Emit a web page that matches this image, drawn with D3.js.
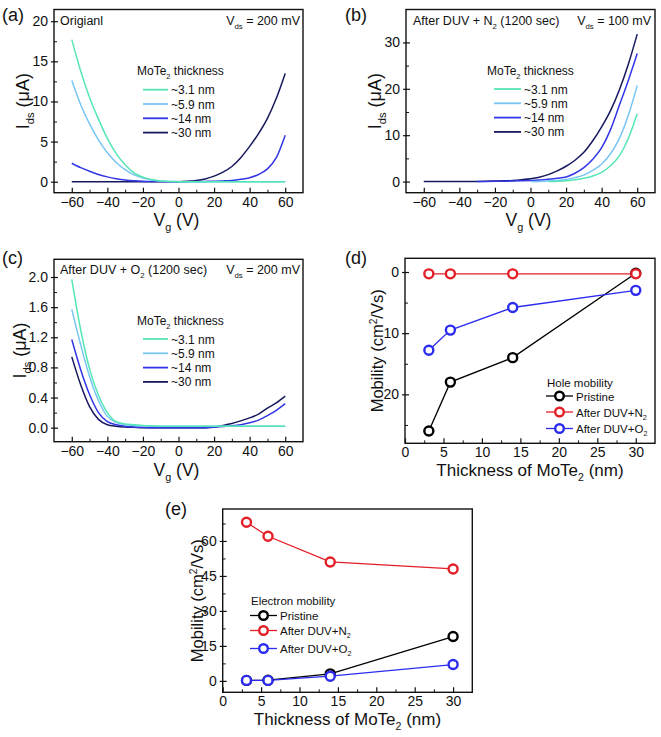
<!DOCTYPE html>
<html><head><meta charset="utf-8">
<script src="https://cdn.jsdelivr.net/npm/d3@7"></script>
<style>
body{margin:0;background:#fff;}
svg{display:block;font-family:"Liberation Sans",Arial,sans-serif;}
</style></head>
<body><svg id="c" width="661" height="737"></svg>
<script>
// ---------- data ----------
const vg = [-60,-55,-50,-45,-40,-35,-30,-25,-20,-15,-10,-5,0,5,10,15,20,25,30,35,40,45,50,55,60];
const thicknessLabels = ["~3.1 nm","~5.9 nm","~14 nm","~30 nm"];
// (a) Original, Ids (uA)
const a31 = [17.7,13.8,10.5,7.8,5.4,3.5,2.1,1.1,0.55,0.25,0.1,0.03,0.01,0,0,0,0,0,0,0,0,0,0,0,0];
const a59 = [12.6,9.6,7.2,5.2,3.6,2.4,1.5,0.85,0.45,0.2,0.08,0.02,0,0,0,0,0,0,0,0,0,0,0,0,0];
const a14 = [2.3,1.75,1.3,0.9,0.6,0.38,0.22,0.12,0.06,0.03,0.02,0.01,0,0.01,0.02,0.04,0.06,0.1,0.16,0.3,0.5,0.9,1.6,3.0,5.8];
const a30 = [0,0,0,0,0,0,0,0,0,0,0,0,0,0.05,0.15,0.35,0.7,1.2,1.9,3.0,4.4,6.0,7.9,10.4,13.5];
// (b) After DUV + N2
const b31 = [null,null,null,null,null,null,null,null,null,null,null,null,null,null,0,0.05,0.2,0.4,0.7,1.2,2.0,3.4,5.6,9.3,14.6];
const b59 = [null,null,null,null,null,null,null,null,null,null,null,null,0,0.03,0.1,0.22,0.45,0.85,1.4,2.4,3.8,6.0,9.3,14.3,20.7];
const b14 = [null,null,null,null,null,null,0,0.02,0.05,0.08,0.12,0.18,0.25,0.35,0.5,0.7,1.0,1.8,3.0,4.8,7.3,11.2,16.5,21.8,27.6];
const b30 = [0,0,0,0,0,0.02,0.04,0.06,0.1,0.15,0.25,0.4,0.6,0.95,1.5,2.3,3.3,4.6,6.3,8.8,11.8,15.3,19.8,25.3,31.8];
// (c) After DUV + O2
const c31 = [1.97,1.3,0.78,0.43,0.2,0.08,0.05,0.04,0.03,0.025,0.02,0.02,0.02,0.02,0.02,0.02,0.02,0.02,0.02,0.02,0.02,0.02,0.02,0.02,0.02];
const c59 = [1.57,1.1,0.68,0.36,0.15,0.07,0.04,0.03,0.025,0.02,0.02,0.02,0.02,0.02,0.02,0.02,0.02,0.02,0.02,0.02,0.02,0.02,0.02,0.02,0.02];
const c14 = [1.17,0.77,0.44,0.2,0.08,0.04,0.02,0.01,0.005,0,0,0,0,0,0,0,0.005,0.015,0.025,0.04,0.065,0.1,0.16,0.23,0.32];
const c30 = [0.94,0.57,0.28,0.11,0.04,0.02,0.01,0.005,0,0,0,0,0,0,0,0,0.01,0.03,0.055,0.09,0.13,0.18,0.26,0.33,0.42];
// (d)/(e) mobility
const thickness = [3.1,5.9,14,30];
const holePristine = [26,18,14,0.2];
const holeN2 = [0.3,0.3,0.3,0.3];
const holeO2 = [12.8,9.5,5.8,3];
const elecPristine = [0.2,0.3,3,19];
const elecN2 = [68,62,51,48];
const elecO2 = [0.2,0.2,2,7];
const mobilityNames = ["Pristine","After DUV+N","After DUV+O"];
// ticks
const vgTicks = [-60,-40,-20,0,20,40,60];
const aTicks = [0,5,10,15,20];
const bTicks = [0,10,20,30];
const cTicks = [0,0.4,0.8,1.2,1.6,2.0];
const dTicks = [0,10,20];
const eTicks = [0,15,30,45,60];
const thTicks = [0,5,10,15,20,25,30];

// ---------- styles ----------
const curveColors = ["#55e6b6","#78c6f4","#3236e6","#17195e"];
const markColors = ["#000000","#e41e26","#2b2cef"];
const svg = d3.select("#c");

function rich(g, x, y, parts, size, anchor, rotate){
  const t = g.append("text").attr("x",x).attr("y",y)
    .style("font-size",size+"px").attr("text-anchor",anchor||"start").attr("fill","#111");
  if(rotate) t.attr("transform",`rotate(-90,${x},${y})`);
  let shift=0;
  parts.forEach(p=>{
    const s = typeof p==="string"?p:p[0];
    const kind = typeof p==="string"?null:p[1];
    const target = kind==="sub"? size*0.3 : kind==="sup"? -size*0.38 : 0;
    const ts = t.append("tspan").attr("dy",target-shift).text(s);
    if(kind) ts.style("font-size",(size*0.62)+"px");
    shift=target;
  });
  return t;
}

function panel(o){
  const g = svg.append("g");
  const x = d3.scaleLinear().domain(o.xd).range([o.l,o.r]);
  const y = d3.scaleLinear().domain(o.yd).range(o.rev?[o.t,o.b]:[o.b,o.t]);
  const xm = [], ym = [];
  for(let i=0;i<o.xt.length-1;i++) xm.push((o.xt[i]+o.xt[i+1])/2);
  for(let i=0;i<o.yt.length-1;i++) ym.push((o.yt[i]+o.yt[i+1])/2);
  if(o.yExtraMinor) ym.push(...o.yExtraMinor);
  const ax = g.append("g").attr("transform",`translate(0,${o.b})`)
    .call(d3.axisBottom(x).tickValues(o.xt).tickSize(-5).tickPadding(4).tickFormat(o.xf||d3.format("d")));
  ax.select(".domain").remove();
  ax.selectAll("text").style("font-size","14px").attr("fill","#111").attr("dy","0.71em");
  ax.selectAll("line").attr("stroke","#111").attr("stroke-width",1.2);
  const axm = g.append("g").attr("transform",`translate(0,${o.b})`)
    .call(d3.axisBottom(x).tickValues(xm).tickSize(-3).tickFormat(""));
  axm.select(".domain").remove(); axm.selectAll("line").attr("stroke","#111");
  const ay = g.append("g").attr("transform",`translate(${o.l},0)`)
    .call(d3.axisLeft(y).tickValues(o.yt).tickSize(3).tickPadding(3).tickFormat(o.yf||d3.format("d")));
  ay.select(".domain").remove();
  ay.selectAll("text").style("font-size","14px").attr("fill","#111");
  ay.selectAll("line").attr("stroke","#111").attr("stroke-width",1.2).attr("x2",-3).attr("x1",4);
  const aym = g.append("g").attr("transform",`translate(${o.l},0)`)
    .call(d3.axisLeft(y).tickValues(ym).tickSize(-3).tickFormat(""));
  aym.select(".domain").remove(); aym.selectAll("line").attr("stroke","#111");
  g.append("rect").attr("x",o.l).attr("y",o.t).attr("width",o.r-o.l).attr("height",o.b-o.t)
    .attr("fill","none").attr("stroke","#111").attr("stroke-width",1.4);
  g.append("text").attr("x",o.lx).attr("y",o.ly).style("font-size","18px").attr("fill","#111").text(o.label);
  return {g,x,y};
}

function transferPanel(o, series){
  const p = panel(o);
  const line = d3.line().defined(d=>d[1]!==null).x(d=>p.x(d[0])).y(d=>p.y(d[1])).curve(d3.curveMonotoneX);
  series.slice().reverse().forEach((s,ri)=>{
    const i = series.length-1-ri;
    p.g.append("path").datum(vg.map((v,k)=>[v,s[k]])).attr("d",line)
      .attr("fill","none").attr("stroke",curveColors[i]).attr("stroke-width",1.5);
  });
  rich(p.g,o.ytx,(o.t+o.b)/2,["I",["ds","sub"]," (\u03BCA)"],18,"middle",true);
  rich(p.g,(o.l+o.r)/2 - 2,o.xty,["V",["g","sub"]," (V)"],17.5,"middle");
  const L = o.leg;
  rich(p.g,L.tx,L.ty,["MoTe",["2","sub"]," thickness"],12);
  thicknessLabels.forEach((lab,i)=>{
    const yy = L.y0 + i*L.dy;
    p.g.append("line").attr("x1",L.x1).attr("x2",L.x2).attr("y1",yy).attr("y2",yy)
      .attr("stroke",curveColors[i]).attr("stroke-width",1.8);
    p.g.append("text").attr("x",L.x2+3).attr("y",yy+4.5).style("font-size","12px").attr("fill","#111").text(lab);
  });
  return p;
}

// (a)
const pa = transferPanel({l:54,r:303,t:9.5,b:192.7,xd:[-70,70],yd:[-1.37,21.46],xt:vgTicks,yt:aTicks,
  label:"(a)",lx:2,ly:21,ytx:29,xty:226,
  leg:{tx:137,ty:75,x1:143,x2:168,y0:89.7,dy:14.3}}, [a31,a59,a14,a30]);
pa.g.append("text").attr("x",60).attr("y",25).style("font-size","12.5px").attr("fill","#111").text("Origianl");
rich(pa.g,300,25,["V",["ds","sub"]," = 200 mV"],12.5,"end");

// (b)
const pb = transferPanel({l:406,r:655,t:9.5,b:192.7,xd:[-70,70],yd:[-2.4,37.1],xt:vgTicks,yt:bTicks,
  label:"(b)",lx:345,ly:21,ytx:381,xty:226,
  leg:{tx:487,ty:75,x1:494,x2:521,y0:89,dy:14.3}}, [b31,b59,b14,b30]);
rich(pb.g,413,25,["After DUV + N",["2","sub"]," (1200 sec)"],12.5);
rich(pb.g,651,25,["V",["ds","sub"]," = 100 mV"],12.5,"end");

// (c)
const pc = transferPanel({l:54,r:303,t:259.3,b:441.7,xd:[-70,70],yd:[-0.186,2.235],xt:vgTicks,yt:cTicks,
  yf:d3.format(".1f"),label:"(c)",lx:2,ly:264,ytx:26,xty:476,
  leg:{tx:137,ty:325,x1:143,x2:168,y0:339,dy:14.3}}, [c31,c59,c14,c30]);
rich(pc.g,60,274,["After DUV + O",["2","sub"]," (1200 sec)"],12.5);
rich(pc.g,300,274,["V",["ds","sub"]," = 200 mV"],12.5,"end");

// mobility panels
function mobilityPanel(o, series, title){
  const p = panel(o);
  const line = d3.line().x((d,i)=>p.x(thickness[i])).y(d=>p.y(d));
  series.forEach((s,i)=>{
    p.g.append("path").datum(s).attr("d",line).attr("fill","none").attr("stroke",markColors[i]).attr("stroke-width",1.3);
  });
  series.forEach((s,i)=>{
    p.g.selectAll(null).data(s).enter().append("circle")
      .attr("cx",(d,k)=>p.x(thickness[k])).attr("cy",d=>p.y(d)).attr("r",4.5)
      .attr("fill","#fff").attr("stroke",markColors[i]).attr("stroke-width",2.4);
  });
  rich(p.g,o.ytx,(o.t+o.b)/2,["Mobility (cm",["2","sup"],"/Vs)"],16.5,"middle",true);
  rich(p.g,(o.l+o.r)/2,o.xty,["Thickness of MoTe",["2","sub"]," (nm)"],17,"middle");
  const L=o.leg;
  p.g.append("text").attr("x",L.tx).attr("y",L.ty).style("font-size","11.5px").attr("fill","#111").text(title);
  mobilityNames.forEach((nm,i)=>{
    const yy=L.ys[i];
    p.g.append("line").attr("x1",L.x1).attr("x2",L.x2).attr("y1",yy).attr("y2",yy).attr("stroke",markColors[i]).attr("stroke-width",1.3);
    p.g.append("circle").attr("cx",(L.x1+L.x2)/2).attr("cy",yy).attr("r",4.3).attr("fill","#fff").attr("stroke",markColors[i]).attr("stroke-width",2.4);
    rich(p.g,L.x2+3,yy+4.5, i===0?[nm]:[nm,["2","sub"]],11.5);
  });
  return p;
}

mobilityPanel({l:405,r:655,t:258.3,b:443.3,xd:[0,32.5],yd:[-2.24,28],rev:true,xt:thTicks,yt:dTicks,
  yExtraMinor:[25],
  label:"(d)",lx:345,ly:264,ytx:383,xty:476,
  leg:{tx:547,ty:387,x1:546,x2:573,ys:[396,412,428.5]}}, [holePristine,holeN2,holeO2],"Hole mobility");

mobilityPanel({l:222.7,r:472.3,t:509,b:692.3,xd:[0,32.5],yd:[-4.9,73.7],xt:thTicks,yt:eTicks,
  yExtraMinor:[67.5],
  label:"(e)",lx:165,ly:515,ytx:203,xty:725,
  leg:{tx:251,ty:605,x1:250,x2:277,ys:[615.5,630.5,648.5]}}, [elecPristine,elecN2,elecO2],"Electron mobility");
</script>
</body></html>
